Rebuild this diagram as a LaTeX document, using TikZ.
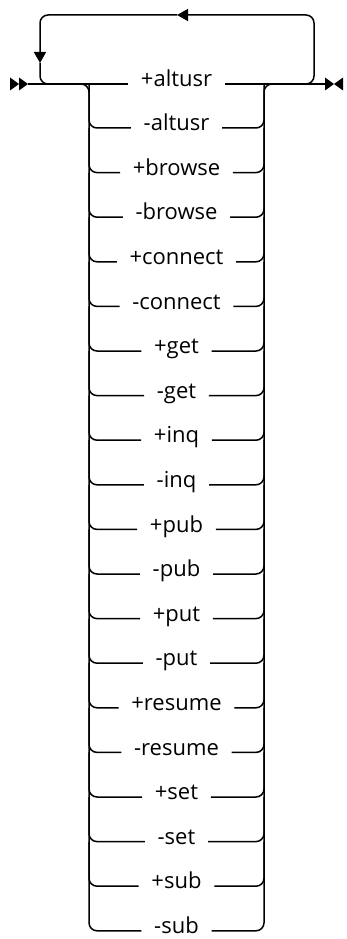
\documentclass[tikz,border=0pt]{standalone}
\usepackage{fontspec}
\setmainfont{Open Sans}
\usetikzlibrary{arrows.meta, positioning}

\begin{document}
\begin{tikzpicture}[x=1pt, y=-1pt, line width=1.5pt,
    every node/.style={font=\fontsize{22}{26}\selectfont},
    opt/.style={inner xsep=12pt, inner ysep=0pt, text height=16pt,
                text depth=5pt, anchor=mid},
    rail/.style={rounded corners=8pt},
    tip/.style={-{Triangle[length=11pt, width=12pt]}}]
    \useasboundingbox (0,0) rectangle (346,939);

    % options, one per row
    \foreach \lbl [count=\i] in {+altusr,-altusr,+browse,-browse,+connect,
        -connect,+get,-get,+inq,-inq,+pub,-pub,+put,-put,+resume,-resume,
        +set,-set,+sub,-sub} {
      \pgfmathsetmacro{\yy}{\i==1 ? 84 : 128+(\i-2)*44.6}
      \node[opt] (o\i) at (176.5,\yy) {\lbl};
    }

    \coordinate (inL)  at (28,84);
    \coordinate (outR) at (325,84);
    \coordinate (lrail) at (89,84);
    \coordinate (rrail) at (264,84);
    \coordinate (loopL) at (40,15);
    \coordinate (loopR) at (314,15);
    \coordinate (loopTip)  at (177,15);
    \coordinate (loopDown) at (40,63);

    % main line
    \draw (inL) -- (o1.mid west);
    \draw (o1.mid east) -- (outR);

    % rails
    \draw[rail] ([xshift=-11pt]lrail) -| (lrail |- o20.mid) -- (o20.mid west);
    \draw[rail] (o20.mid east) -| (rrail) -- ([xshift=11pt]rrail);
    \foreach \i [evaluate=\i as \p using int(\i-1)] in {2,...,19} {
      \draw[rail] (lrail |- o\p.mid) |- (o\i.mid west);
      \draw[rail] (o\i.mid east) -| (rrail |- o\p.mid);
    }

    % repeat loop
    \draw[rail, tip] ([xshift=-24pt]loopR |- outR) -| (loopR) -- (loopTip);
    \draw[rail, tip] (loopTip) -| (loopDown);
    \draw[rail] (loopDown) |- ([xshift=24pt]loopL |- inL);

    % start and end marks
    \fill (10,77.5) -- (19,84) -- (10,90.5) -- cycle;
    \fill (19,77.5) -- (28,84) -- (19,90.5) -- cycle;
    \fill (325,77.5) -- (334,84) -- (325,90.5) -- cycle;
    \fill (343,77.5) -- (334,84) -- (343,90.5) -- cycle;
\end{tikzpicture}
\end{document}
